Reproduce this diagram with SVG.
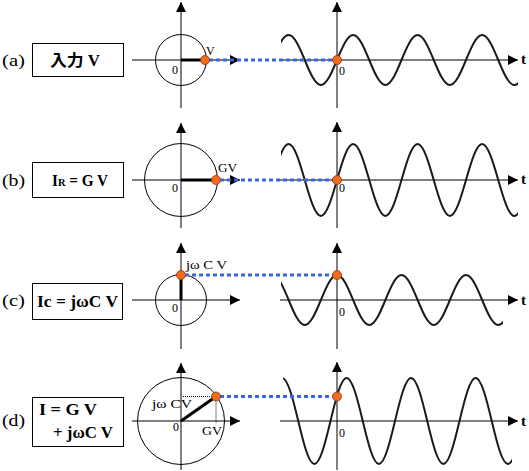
<svg xmlns="http://www.w3.org/2000/svg" width="529" height="471" viewBox="0 0 529 471">
<style>
.ax{stroke:#000;stroke-width:1;fill:none}
.circ{stroke:#000;stroke-width:1;fill:none}
.vec{stroke:#000;stroke-width:3;fill:none}
.wave{stroke:#1a1a1a;stroke-width:2;fill:none}
.dot{fill:#f26a1b;stroke:#8a3a10;stroke-width:0.8}
.blue{stroke:#3a66e0;stroke-width:3;stroke-dasharray:4 3;fill:none}
.guide{stroke:#000;stroke-width:1;stroke-dasharray:1 1;fill:none}
.box{fill:#fff;stroke:#000;stroke-width:1}
.lbl{font-family:"Liberation Serif","Noto Sans CJK JP",serif;font-size:17px;fill:#000}
.bt{font-family:"Liberation Serif","Noto Sans CJK JP",serif;font-weight:bold;font-size:16px;fill:#000}
.sm{font-family:"Liberation Serif","Noto Sans CJK JP",serif;font-size:12px;fill:#000}
.t{font-family:"Liberation Serif",serif;font-weight:bold;font-size:15px;fill:#000}
</style>
<defs>
<marker id="arr" markerUnits="userSpaceOnUse" markerWidth="10" markerHeight="10" refX="10" refY="5" orient="auto" viewBox="0 0 10 10">
<path d="M0,0 L10,5 L0,10 z" fill="#000"/>
</marker>
<clipPath id="ca"><rect x="281" y="0" width="237" height="471"/></clipPath>
<clipPath id="cc"><rect x="281" y="0" width="222" height="471"/></clipPath>
<clipPath id="cd"><rect x="283" y="0" width="229" height="471"/></clipPath>
</defs>

<!-- panel (a) -->
<g id="label-a"><text class="lbl" x="2" y="66" textLength="23" lengthAdjust="spacingAndGlyphs">(a)</text></g>
<g id="box-a"><rect class="box" x="32.5" y="43.5" width="91" height="33"/>
<text class="bt" x="75" y="66" text-anchor="middle" font-size="15" textLength="50" lengthAdjust="spacingAndGlyphs">入力 V</text></g>
<g id="phasor-a">
<line class="ax" x1="132" y1="60" x2="240" y2="60" marker-end="url(#arr)"/>
<line class="ax" x1="181" y1="108" x2="181" y2="2" marker-end="url(#arr)"/>
<circle class="circ" cx="181" cy="60" r="25.5"/>
<line class="vec" x1="181" y1="60" x2="205" y2="60"/>
<text class="sm" x="206" y="55">V</text>
<text class="sm" x="172" y="74">0</text>
</g>
<g id="wave-a">
<line class="ax" x1="280" y1="60" x2="518" y2="60" marker-end="url(#arr)"/>
<line class="ax" x1="337" y1="108" x2="337" y2="2" marker-end="url(#arr)"/>
<path class="wave" clip-path="url(#ca)" d="M272.5,60 c5.26,-12.81 10.48,-25 16.125,-25 s10.865,12.19 16.125,25 s10.48,25 16.125,25 s10.865,-12.19 16.125,-25 s10.48,-25 16.125,-25 s10.865,12.19 16.125,25 s10.48,25 16.125,25 s10.865,-12.19 16.125,-25 s10.48,-25 16.125,-25 s10.865,12.19 16.125,25 s10.48,25 16.125,25 s10.865,-12.19 16.125,-25 s10.48,-25 16.125,-25 s10.865,12.19 16.125,25 s10.48,25 16.125,25 s10.865,-12.19 16.125,-25 s10.48,-25 16.125,-25"/>
<text class="sm" x="339" y="75">0</text>
<text class="t" x="521" y="64">t</text>
</g>

<!-- panel (b) -->
<g id="label-b"><text class="lbl" x="2" y="186" textLength="23" lengthAdjust="spacingAndGlyphs">(b)</text></g>
<g id="box-b"><rect class="box" x="32.5" y="162.5" width="91" height="35"/>
<text class="bt" x="52" y="186" textLength="56" lengthAdjust="spacingAndGlyphs">I<tspan font-size="11">R</tspan> = G V</text></g>
<g id="phasor-b">
<line class="ax" x1="132" y1="180" x2="240" y2="180" marker-end="url(#arr)"/>
<line class="ax" x1="181" y1="228" x2="181" y2="123" marker-end="url(#arr)"/>
<circle class="circ" cx="181" cy="180" r="36.5"/>
<line class="vec" x1="181" y1="180" x2="216" y2="180"/>
<text class="sm" x="218" y="172" textLength="19" lengthAdjust="spacingAndGlyphs">GV</text>
<text class="sm" x="172" y="192">0</text>
</g>
<g id="wave-b">
<line class="ax" x1="280" y1="180" x2="518" y2="180" marker-end="url(#arr)"/>
<line class="ax" x1="337" y1="228" x2="337" y2="122" marker-end="url(#arr)"/>
<path class="wave" clip-path="url(#ca)" d="M272.5,180 c5.26,-18.44 10.48,-36 16.125,-36 s10.865,17.56 16.125,36 s10.48,36 16.125,36 s10.865,-17.56 16.125,-36 s10.48,-36 16.125,-36 s10.865,17.56 16.125,36 s10.48,36 16.125,36 s10.865,-17.56 16.125,-36 s10.48,-36 16.125,-36 s10.865,17.56 16.125,36 s10.48,36 16.125,36 s10.865,-17.56 16.125,-36 s10.48,-36 16.125,-36 s10.865,17.56 16.125,36 s10.48,36 16.125,36 s10.865,-17.56 16.125,-36 s10.48,-36 16.125,-36"/>
<text class="sm" x="339" y="192">0</text>
<text class="t" x="521" y="184">t</text>
</g>

<!-- panel (c) -->
<g id="label-c"><text class="lbl" x="2" y="306" textLength="23" lengthAdjust="spacingAndGlyphs">(c)</text></g>
<g id="box-c"><rect class="box" x="32.5" y="283.5" width="90" height="36"/>
<text class="bt" x="37" y="307" textLength="81" lengthAdjust="spacingAndGlyphs">Ic = jωC V</text></g>
<g id="phasor-c">
<line class="ax" x1="132" y1="300" x2="240" y2="300" marker-end="url(#arr)"/>
<line class="ax" x1="181" y1="349" x2="181" y2="243" marker-end="url(#arr)"/>
<circle class="circ" cx="181" cy="300" r="25.5"/>
<line class="vec" x1="181" y1="300" x2="181" y2="275"/>
<text class="sm" x="186" y="269" textLength="41" lengthAdjust="spacingAndGlyphs">jω C V</text>
<text class="sm" x="172" y="312">0</text>
</g>
<g id="wave-c">
<line class="ax" x1="280" y1="300" x2="518" y2="300" marker-end="url(#arr)"/>
<line class="ax" x1="337" y1="349" x2="337" y2="243" marker-end="url(#arr)"/>
<path class="wave" clip-path="url(#cc)" d="M256.4,300 c5.26,-12.81 10.48,-25 16.125,-25 s10.865,12.19 16.125,25 s10.48,25 16.125,25 s10.865,-12.19 16.125,-25 s10.48,-25 16.125,-25 s10.865,12.19 16.125,25 s10.48,25 16.125,25 s10.865,-12.19 16.125,-25 s10.48,-25 16.125,-25 s10.865,12.19 16.125,25 s10.48,25 16.125,25 s10.865,-12.19 16.125,-25 s10.48,-25 16.125,-25 s10.865,12.19 16.125,25 s10.48,25 16.125,25 s10.865,-12.19 16.125,-25 s10.48,-25 16.125,-25"/>
<text class="sm" x="339" y="316">0</text>
<text class="t" x="521" y="305">t</text>
</g>

<!-- panel (d) -->
<g id="label-d"><text class="lbl" x="2" y="426" textLength="23" lengthAdjust="spacingAndGlyphs">(d)</text></g>
<g id="box-d"><rect class="box" x="32.5" y="397.5" width="91" height="49"/>
<text class="bt" x="39" y="415" textLength="58" lengthAdjust="spacingAndGlyphs">I = G V</text>
<text class="bt" x="53" y="438" textLength="60" lengthAdjust="spacingAndGlyphs">+ jωC V</text></g>
<g id="phasor-d">
<line class="ax" x1="132" y1="421" x2="240" y2="421" marker-end="url(#arr)"/>
<line class="ax" x1="181" y1="470" x2="181" y2="363" marker-end="url(#arr)"/>
<circle class="circ" cx="181" cy="421" r="43.5"/>
<line class="guide" x1="183" y1="396.5" x2="216" y2="396.5"/>
<line class="guide" x1="216" y1="396.5" x2="216" y2="423"/>
<line class="vec" x1="181" y1="421" x2="216" y2="396.5"/>
<text class="sm" x="152" y="408" textLength="40" lengthAdjust="spacingAndGlyphs">jω CV</text>
<text class="sm" x="202" y="435" textLength="20" lengthAdjust="spacingAndGlyphs">GV</text>
<text class="sm" x="173" y="431">0</text>
</g>
<g id="wave-d">
<line class="ax" x1="280" y1="421" x2="518" y2="421" marker-end="url(#arr)"/>
<line class="ax" x1="337" y1="470" x2="337" y2="362" marker-end="url(#arr)"/>
<path class="wave" clip-path="url(#cd)" d="M266,421 c5.26,-22.03 10.48,-43 16.125,-43 s10.865,20.97 16.125,43 s10.48,43 16.125,43 s10.865,-20.97 16.125,-43 s10.48,-43 16.125,-43 s10.865,20.97 16.125,43 s10.48,43 16.125,43 s10.865,-20.97 16.125,-43 s10.48,-43 16.125,-43 s10.865,20.97 16.125,43 s10.48,43 16.125,43 s10.865,-20.97 16.125,-43 s10.48,-43 16.125,-43 s10.865,20.97 16.125,43 s10.48,43 16.125,43 s10.865,-20.97 16.125,-43 s10.48,-43 16.125,-43"/>
<text class="sm" x="339" y="437">0</text>
<text class="t" x="521" y="426">t</text>
</g>

<!-- connectors: projection lines from phasor tips to waveforms -->
<g id="connectors">
<line class="blue" x1="209" y1="60" x2="333" y2="60"/>
<line class="blue" x1="220" y1="180" x2="333" y2="180"/>
<line class="blue" x1="185" y1="275" x2="333" y2="275"/>
<line class="blue" x1="220" y1="396.5" x2="333" y2="396.5"/>
<circle class="dot" cx="205" cy="60" r="4.5"/>
<circle class="dot" cx="337" cy="60" r="4.5"/>
<circle class="dot" cx="216" cy="180" r="4.5"/>
<circle class="dot" cx="337" cy="180" r="4.5"/>
<circle class="dot" cx="181" cy="275" r="4.5"/>
<circle class="dot" cx="337" cy="275" r="4.5"/>
<circle class="dot" cx="216" cy="396.5" r="4.5"/>
<circle class="dot" cx="337" cy="396.5" r="4.5"/>
</g>
</svg>
